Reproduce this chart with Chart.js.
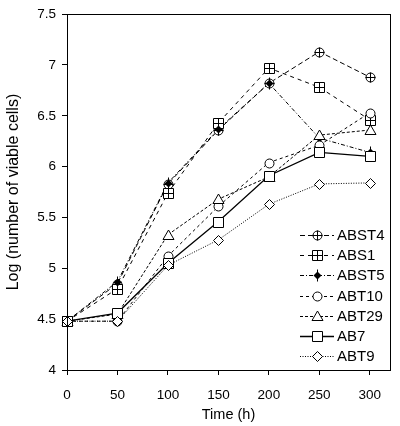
<!DOCTYPE html>
<html>
<head>
<meta charset="utf-8">
<script src="https://cdn.jsdelivr.net/npm/chart.js@4.4.0/dist/chart.umd.min.js"></script>
<style>
  body { margin: 0; background: #fff; }
  #wrap { width: 400px; height: 426px; }
</style>
</head>
<body>
<div id="wrap"><canvas id="lineChart" width="400" height="426"></canvas></div>
<script>
    const times = [0, 50, 100, 150, 200, 250, 300];
    const seriesNames = ["ABST4", "ABS1", "ABST5", "ABT10", "ABT29", "AB7", "ABT9"];
    const abst4 = [4.48, 4.85, 5.83, 6.36, 6.82, 7.13, 6.88];
    const abs1 = [4.48, 4.80, 5.74, 6.43, 6.97, 6.78, 6.46];
    const abst5 = [4.48, 4.87, 5.84, 6.37, 6.82, 6.28, 6.14];
    const abt10 = [4.48, 4.48, 5.12, 5.61, 6.04, 6.21, 6.53];
    const abt29 = [4.48, 4.55, 5.33, 5.68, 5.90, 6.31, 6.36];
    const ab7 = [4.48, 4.56, 5.05, 5.46, 5.91, 6.14, 6.10];
    const abt9 = [4.48, 4.48, 5.03, 5.28, 5.63, 5.83, 5.84];
    const yTicks = [4, 4.5, 5, 5.5, 6, 6.5, 7, 7.5];

    const seriesData = [abst4, abs1, abst5, abt10, abt29, ab7, abt9];
    const markers = ['circlePlus', 'squarePlus', 'filledDiamond', 'circle', 'triangle', 'square', 'diamond'];
    const dashes = [[5, 3], [4, 4], [4, 2, 1, 2], [3, 3], [3, 2], [], [1, 1.5]];

    // vector markers, drawn at the points the library placed
    function drawMarker(g, kind, px, py) {
      const x = Math.round(px) + 0.5, y = Math.round(py) + 0.5;
      g.save();
      g.strokeStyle = '#000';
      g.fillStyle = '#fff';
      g.lineWidth = 1;
      g.setLineDash([]);
      g.beginPath();
      if (kind === 'circlePlus') {
        g.arc(x, y, 4.5, 0, Math.PI * 2); g.fill(); g.stroke();
        g.beginPath(); g.moveTo(x, y - 5); g.lineTo(x, y + 5); g.moveTo(x - 5, y); g.lineTo(x + 5, y); g.stroke();
      } else if (kind === 'squarePlus') {
        g.rect(x - 5, y - 5, 10, 10); g.fill(); g.stroke();
        g.beginPath(); g.moveTo(x, y - 5); g.lineTo(x, y + 5); g.moveTo(x - 5, y); g.lineTo(x + 5, y); g.stroke();
      } else if (kind === 'filledDiamond') {
        g.fillStyle = '#000';
        g.moveTo(x, y - 4); g.lineTo(x + 4, y); g.lineTo(x, y + 4); g.lineTo(x - 4, y); g.closePath(); g.fill();
        g.beginPath(); g.moveTo(x, y - 6); g.lineTo(x, y + 6); g.stroke();
      } else if (kind === 'circle') {
        g.arc(x, y, 4.5, 0, Math.PI * 2); g.fill(); g.stroke();
      } else if (kind === 'triangle') {
        g.moveTo(x, y - 5.5); g.lineTo(x + 5.5, y + 4); g.lineTo(x - 5.5, y + 4); g.closePath(); g.fill(); g.stroke();
      } else if (kind === 'square') {
        g.rect(x - 5, y - 5, 10, 10); g.fill(); g.stroke();
      } else if (kind === 'diamond') {
        g.moveTo(x, y - 5); g.lineTo(x + 5, y); g.lineTo(x, y + 5); g.lineTo(x - 5, y); g.closePath(); g.fill(); g.stroke();
      }
      g.restore();
    }

    const datasets = seriesNames.map((name, i) => ({
      label: name,
      data: times.map((t, j) => ({ x: t, y: seriesData[i][j] })),
      borderColor: '#000',
      borderWidth: i === 5 ? 1.3 : 1,
      borderDash: dashes[i],
      pointRadius: 0,
      tension: 0,
      fill: false
    }));

    const markerPlugin = {
      id: 'markers',
      afterDatasetsDraw(chart) {
        const ctx = chart.ctx;
        chart.data.datasets.forEach((ds, i) => {
          chart.getDatasetMeta(i).data.forEach(pt => drawMarker(ctx, markers[i], pt.x, pt.y));
        });
      }
    };

    // frame round the plot area, plus the legend inside it
    const framePlugin = {
      id: 'frame',
      afterDraw(chart) {
        const { ctx, chartArea: a } = chart;
        ctx.save();
        ctx.strokeStyle = '#000';
        ctx.lineWidth = 1;
        ctx.strokeRect(Math.round(a.left) + 0.5, Math.round(a.top) + 0.5,
          Math.round(a.right - a.left), Math.round(a.bottom - a.top));

        ctx.font = '15px "Liberation Sans", Arial, sans-serif';
        ctx.textBaseline = 'middle';
        ctx.fillStyle = '#000';
        chart.data.datasets.forEach((ds, i) => {
          const y = Math.round(235 + i * 20.2);
          ctx.beginPath();
          ctx.setLineDash(ds.borderDash);
          ctx.lineWidth = ds.borderWidth;
          ctx.moveTo(300, y + 0.5);
          ctx.lineTo(334, y + 0.5);
          ctx.stroke();
          ctx.setLineDash([]);
          drawMarker(ctx, markers[i], 317, y);
          ctx.fillText(ds.label, 337, y + 1);
        });
        ctx.restore();
      }
    };

    const tickFont = { family: '"Liberation Sans", Arial, sans-serif', size: 13.5 };

    new Chart(document.getElementById('lineChart').getContext('2d'), {
      type: 'line',
      data: { datasets: datasets },
      options: {
        responsive: false,
        animation: false,
        layout: { padding: { top: 11, right: 10, left: 0, bottom: 0 } },
        plugins: { legend: { display: false }, tooltip: { enabled: false } },
        scales: {
          x: {
            type: 'linear',
            min: 0,
            max: 320,
            afterFit: s => { s.height = 56; },
            ticks: { stepSize: 50, includeBounds: false, color: '#000', font: tickFont, padding: 12, maxRotation: 0 },
            grid: { drawOnChartArea: false, drawTicks: true, tickLength: 5, color: '#000' },
            border: { color: '#000', width: 1 },
            title: {
              display: true, text: 'Time (h)', color: '#000',
              font: { family: '"Liberation Sans", Arial, sans-serif', size: 14.5 },
              padding: { top: 0, bottom: 2 }
            }
          },
          y: {
            type: 'linear',
            min: 4,
            max: 7.5,
            afterFit: s => { s.width = 67; },
            afterBuildTicks: s => { s.ticks = yTicks.map(v => ({ value: v })); },
            ticks: { color: '#000', font: tickFont, padding: 6, callback: v => String(v) },
            grid: { drawOnChartArea: false, drawTicks: true, tickLength: 5, color: '#000' },
            border: { color: '#000', width: 1 },
            title: {
              display: true, text: 'Log (number of viable cells)', color: '#000',
              font: { family: '"Liberation Sans", Arial, sans-serif', size: 16 },
              padding: { top: 4, bottom: 0 }
            }
          }
        }
      },
      plugins: [markerPlugin, framePlugin]
    });
</script>
</body>
</html>
